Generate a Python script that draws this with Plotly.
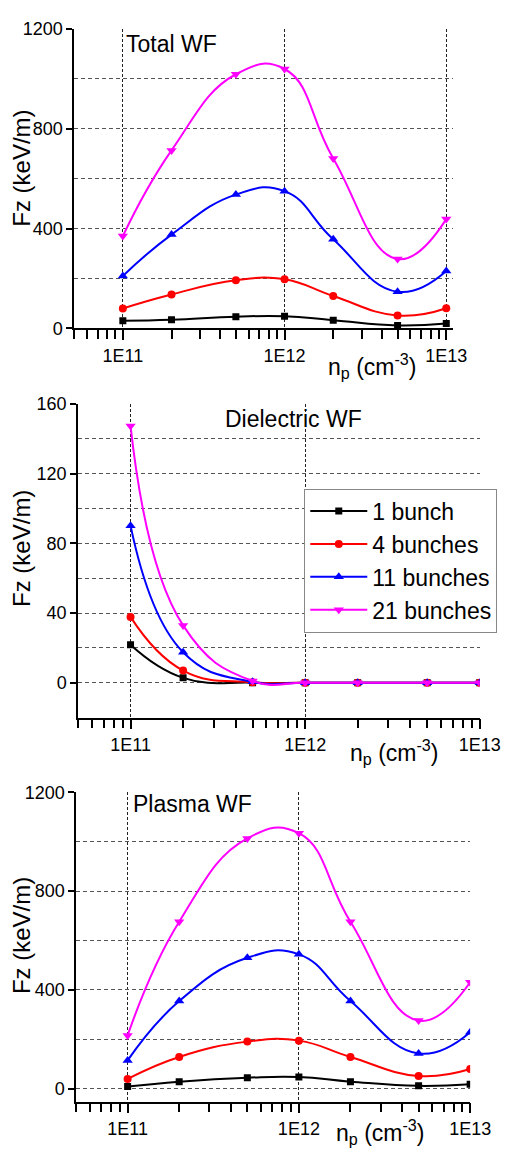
import plotly.graph_objects as go

# ---------------- data ----------------
n_p = [1e11, 2e11, 5e11, 1e12, 2e12, 5e12, 1e13]
series_names = ["1 bunch", "4 bunches", "11 bunches", "21 bunches"]

total_wf = {
    "1 bunch":    [31, 35, 47, 49, 33, 12, 20],
    "4 bunches":  [80, 136, 193, 197, 130, 52, 81],
    "11 bunches": [210, 376, 536, 550, 357, 147, 230],
    "21 bunches": [370, 713, 1018, 1039, 681, 278, 438],
}
dielectric_wf = {
    "1 bunch":    [21.8, 2.8, 0.0, 0.0, 0.0, 0.0, 0.0],
    "4 bunches":  [37.8, 7.0, 0.2, 0.0, 0.0, 0.0, 0.0],
    "11 bunches": [90.2, 17.5, 0.5, 0.0, 0.0, 0.0, 0.0],
    "21 bunches": [147.5, 32.9, 1.0, 0.0, 0.0, 0.0, 0.0],
}
plasma_wf = {
    "1 bunch":    [9, 29, 45, 48, 29, 12, 19],
    "4 bunches":  [40, 129, 191, 195, 129, 52, 80],
    "11 bunches": [115, 355, 530, 544, 355, 143, 229],
    "21 bunches": [216, 676, 1013, 1034, 676, 276, 431],
}

x_major = [1e11, 1e12, 1e13]
x_major_text = ["1E11", "1E12", "1E13"]
x_minor = [m * 10 ** e for e in (10, 11, 12) for m in range(2, 10) if 5e10 <= m * 10 ** e < 1e13]

# ---------------- style ----------------
FONT = "Liberation Sans, Arial, sans-serif"
colors = {"1 bunch": "black", "4 bunches": "#ff0000", "11 bunches": "#0000ff", "21 bunches": "#ff00ff"}
symbols = {"1 bunch": "square", "4 bunches": "circle", "11 bunches": "triangle-up", "21 bunches": "triangle-down"}
msizes = {"1 bunch": 7, "4 bunches": 8, "11 bunches": 9, "21 bunches": 9}

fig = go.Figure()

panels = [
    (total_wf, "x", "y", False),
    (dielectric_wf, "x2", "y2", True),
    (plasma_wf, "x3", "y3", False),
]
for data, xa, ya, show in panels:
    for name in series_names:
        fig.add_trace(go.Scatter(
            x=n_p, y=data[name], name=name, xaxis=xa, yaxis=ya,
            mode="lines+markers", showlegend=show,
            line=dict(color=colors[name], width=2, shape="spline", smoothing=1.3),
            marker=dict(symbol=symbols[name], size=msizes[name], color=colors[name]),
        ))

# the page adds an 8px body margin; size the figure so the page fits the window exactly
OFF = 8
W, H = 526 - 2 * OFF, 1158 - 2 * OFF


def px(xr):
    return (xr - OFF) / W


def py(yr):
    return 1 - (yr - OFF) / H


def xdom(l, r):
    return [px(l), px(r)]


def ydom(top, bot):
    return [py(bot), py(top)]


HGRID = dict(gridcolor="#555", griddash="4px,3px", gridwidth=1)

common_x = dict(
    type="log", showline=True, linecolor="black", linewidth=1.5,
    ticks="outside", ticklen=10, tickwidth=1.5, tickcolor="black",
    tickvals=x_major, ticktext=x_major_text,
    showgrid=True, gridcolor="#222", griddash="3px,2px", gridwidth=1,
    zeroline=False,
    tickfont=dict(family=FONT, size=18, color="black"),
    minor=dict(tickvals=x_minor, ticks="outside", ticklen=9, tickwidth=1.5,
               tickcolor="black", showgrid=False),
)
common_y = dict(
    showline=True, linecolor="black", linewidth=1.5,
    ticks="outside", ticklen=6, tickwidth=1.5, tickcolor="black",
    showgrid=True, zeroline=False,
    tickfont=dict(family=FONT, size=18, color="black"),
    **HGRID,
)

fig.update_layout(
    width=W, height=H,
    margin=dict(l=0, r=0, t=0, b=0),
    paper_bgcolor="white", plot_bgcolor="white",
    font=dict(family=FONT, color="black"),
    xaxis=dict(common_x, domain=xdom(77, 472), range=[10.699, 13.041], anchor="y"),
    yaxis=dict(common_y, domain=ydom(19, 324), range=[0, 1200], dtick=400, anchor="x",
               minor=dict(dtick=200, showgrid=True, **HGRID)),
    xaxis2=dict(common_x, domain=xdom(81, 500), range=[10.699, 13.0], anchor="y2"),
    yaxis2=dict(common_y, domain=ydom(401, 720), range=[-20, 160], dtick=40, anchor="x2",
                minor=dict(dtick=20, showgrid=True, **HGRID)),
    xaxis3=dict(common_x, domain=xdom(79, 490), range=[10.699, 13.0], anchor="y3"),
    yaxis3=dict(common_y, domain=ydom(796, 1111), range=[-52, 1200], dtick=400, anchor="x3",
                minor=dict(dtick=200, showgrid=True, **HGRID)),
    legend=dict(
        x=px(317), y=py(487), xanchor="left", yanchor="top",
        bgcolor="white", bordercolor="#888", borderwidth=1,
        font=dict(family=FONT, size=23, color="black"),
        itemwidth=57, tracegroupgap=0,
    ),
)

ann = []
ytitle = "Fz (keV/m)"
xtitle = "n<sub>p</sub> (cm<sup>-3</sup>)"
for yc in (161, 548, 942):
    ann.append(dict(text=ytitle, x=px(22), y=py(yc), xref="paper", yref="paper",
                    textangle=-90, showarrow=False, xanchor="center", yanchor="middle",
                    font=dict(family=FONT, size=24, color="black")))
for xl, yc in ((340, 362), (363, 755), (348, 1142)):
    ann.append(dict(text=xtitle, x=px(xl), y=py(yc), xref="paper", yref="paper",
                    showarrow=False, xanchor="left", yanchor="middle",
                    font=dict(family=FONT, size=23, color="black")))
for txt, xl, yc in (("Total WF", 129, 34), ("Dielectric WF", 232, 416), ("Plasma WF", 136, 808)):
    ann.append(dict(text=txt, x=px(xl), y=py(yc), xref="paper", yref="paper",
                    showarrow=False, xanchor="left", yanchor="middle",
                    font=dict(family=FONT, size=23, color="black")))
fig.update_layout(annotations=ann)

fig.write_html("out.html")
